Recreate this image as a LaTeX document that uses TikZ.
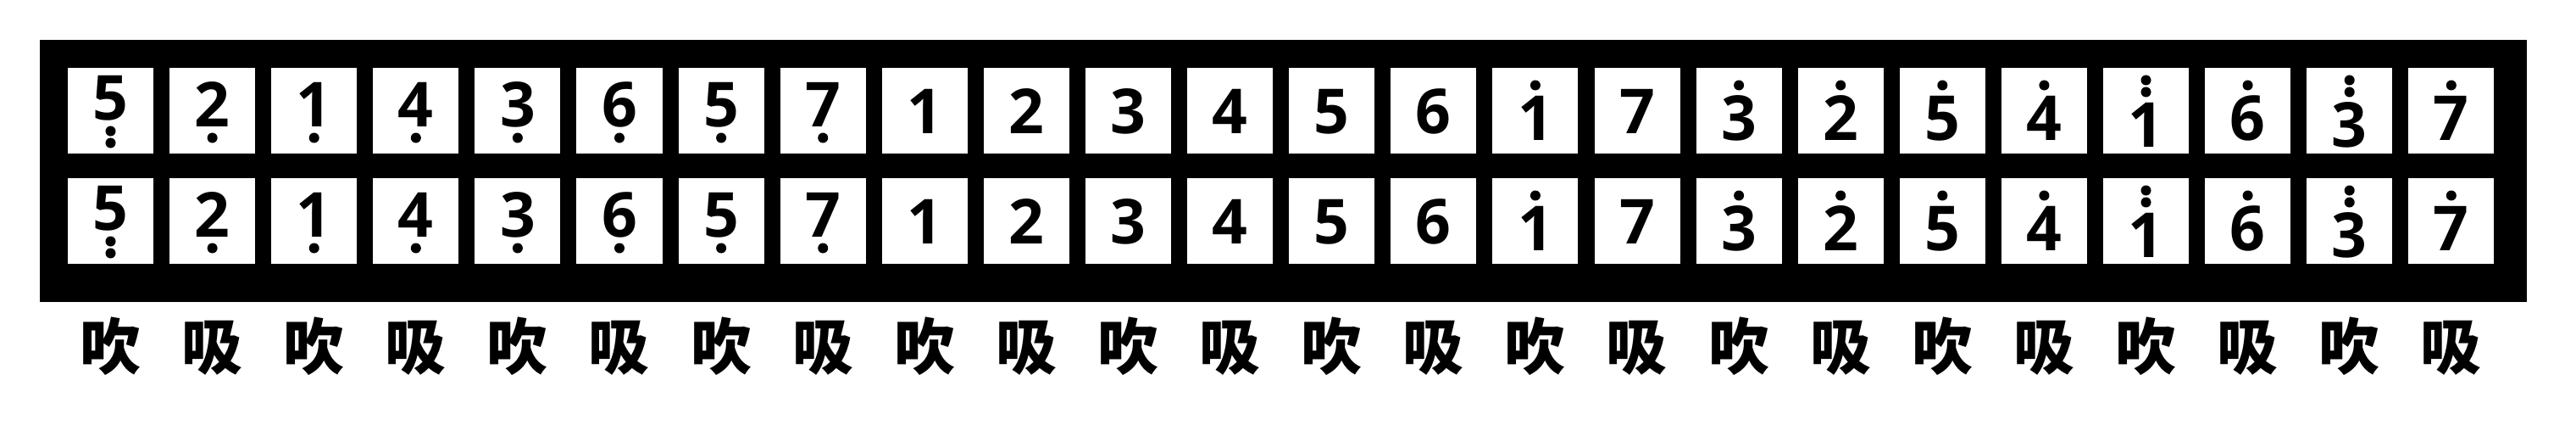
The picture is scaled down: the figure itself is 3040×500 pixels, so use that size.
\documentclass[tikz,border=0pt]{standalone}
\usepackage{fontspec}
\newfontfamily\cjk{Noto Sans CJK SC}
\newfontfamily\digfont{Open Sans}
\begin{document}
\begin{tikzpicture}[x=0.01cm,y=-0.01cm,
  keybox/.style={fill=white, draw=none, minimum width=1.01cm, minimum height=1.01cm, inner sep=0pt},
  digit/.style={anchor=base, inner sep=0pt, font=\digfont\bfseries\fontsize{20.8pt}{24pt}\selectfont},
  lab/.style={anchor=base, inner sep=0pt, font=\cjk\bfseries\fontsize{20.5pt}{24pt}\selectfont},
  dotmark/.style={fill=black}]
\useasboundingbox (0,0) rectangle (3040,500);
\fill[black] (47,47) rectangle (2982,356);
\foreach \d/\o [count=\i from 0] in {5/-2,2/-1,1/-1,4/-1,3/-1,6/-1,5/-1,7/-1,1/0,2/0,3/0,4/0,5/0,6/0,1/1,7/0,3/1,2/1,5/1,4/1,1/2,6/1,3/2,7/1} {
  \pgfmathsetmacro\cx{130.5+120.1*\i}
  \foreach \by/\bc/\rn in {131.5/130.5/1, 261.5/260.5/2} {
    \node[keybox] (k\rn-\i) at (\cx,\bc) {};
    \pgfmathsetmacro\bl{\by+26+8*\o}
    \node[digit] (n\rn-\i) at (\cx,\bl) {\d};
    \ifnum\o<0 \fill[dotmark] (\cx,\bl+13) circle[radius=0.06cm]; \fi
    \ifnum\o<-1 \fill[dotmark] (\cx,\bl+27) circle[radius=0.06cm]; \fi
    \ifnum\o>0 \fill[dotmark] (\cx,\bl-65) circle[radius=0.06cm]; \fi
    \ifnum\o>1 \fill[dotmark] (\cx,\bl-79) circle[radius=0.06cm]; \fi
  }
  \ifodd\i
    \node[lab] (l\i) at (\cx,435) {吸};
  \else
    \node[lab] (l\i) at (\cx,435) {吹};
  \fi
}
\end{tikzpicture}
\end{document}
